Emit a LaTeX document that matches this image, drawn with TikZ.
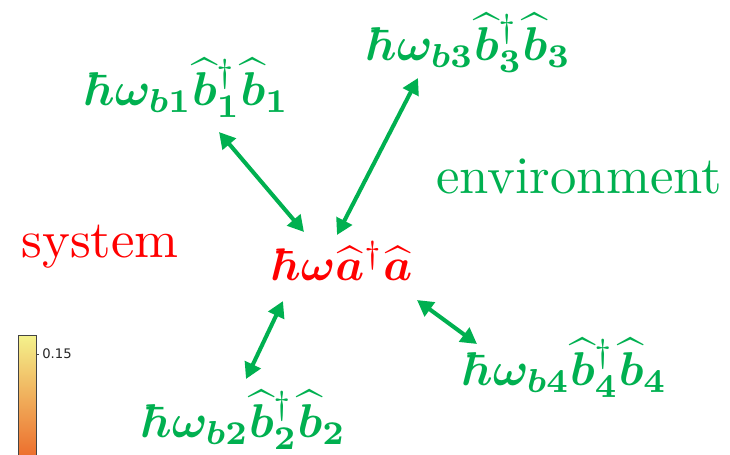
\documentclass[tikz,border=0pt]{standalone}
\usepackage{fontspec}
\usepackage{amsmath}
\usepackage{bm}
\usetikzlibrary{arrows.meta, positioning}
\newfontfamily\cbarFont{DejaVu Sans}
\definecolor{sysRed}{HTML}{FF0000}
\definecolor{envGreen}{HTML}{00B050}
\definecolor{barTop}{HTML}{F4F28C}
\definecolor{barMid}{HTML}{F9B41E}
\definecolor{barLow}{HTML}{EC6A2A}
\definecolor{barEdge}{HTML}{444444}
\newcommand{\opHat}[1]{\widehat{\bm{#1}}}
\tikzset{
  arrowG/.style={{Triangle[length=3.2mm, width=3.4mm]}-{Triangle[length=3.2mm, width=3.4mm]},
                 draw=envGreen, fill=envGreen, line width=2.3pt},
  termRed/.style={text=sysRed, scale=2.6, transform shape, inner sep=0pt, anchor=base},
  termGreen/.style={text=envGreen, scale=2.7, transform shape, inner sep=0pt, anchor=base},
  wordLbl/.style={scale=3.0, transform shape, inner sep=0pt, anchor=base},
}

\begin{document}
\begin{tikzpicture}[x=0.02cm, y=-0.02cm]
    \useasboundingbox (0,0) rectangle (730,454);
    % labels
    \node[wordLbl, text=sysRed] (sys) at (100,257) {system};
    \node[wordLbl, text=envGreen] (env) at (579,193) {environment};
    % system and bath terms
    \node[termRed] (hsys) at (343,280) {$\bm{\hbar\omega}\opHat{a}^{\dagger}\opHat{a}$};
    \node[termGreen] (hb1) at (188,105) {$\bm{\hbar\omega_{b1}}\opHat{b}^{\dagger}_{\bm{1}}\opHat{b}_{\bm{1}}$};
    \node[termGreen] (hb3) at (470,60) {$\bm{\hbar\omega_{b3}}\opHat{b}^{\dagger}_{\bm{3}}\opHat{b}_{\bm{3}}$};
    \node[termGreen] (hb2) at (245,437) {$\bm{\hbar\omega_{b2}}\opHat{b}^{\dagger}_{\bm{2}}\opHat{b}_{\bm{2}}$};
    \node[termGreen] (hb4) at (566,385) {$\bm{\hbar\omega_{b4}}\opHat{b}^{\dagger}_{\bm{4}}\opHat{b}_{\bm{4}}$};
    % couplings
    \draw[arrowG] ([shift={(31,27)}]hb1.base) -- ([shift={(-39,-48)}]hsys.base);
    \draw[arrowG] ([shift={(-52,18)}]hb3.base) -- ([shift={(-6,-45)}]hsys.base);
    \draw[arrowG] ([shift={(-60,21)}]hsys.base) -- ([shift={(1,-58)}]hb2.base);
    \draw[arrowG] ([shift={(74,20)}]hsys.base) -- ([shift={(-89,-41)}]hb4.base);
    % colour bar
    \shade[top color=barTop, middle color=barMid, bottom color=barLow] (18,335) rectangle (36,460);
    \draw[barEdge, line width=0.5pt] (18,460) -- (18,335) -- (36,335) -- (36,460);
    \draw[barEdge, line width=0.5pt] (36,354) -- (39,354);
    \node[anchor=west, inner sep=0pt, text=black!85, font=\cbarFont\fontsize{7.5}{9}\selectfont] (tick) at (42,354) {0.15};
\end{tikzpicture}
\end{document}
